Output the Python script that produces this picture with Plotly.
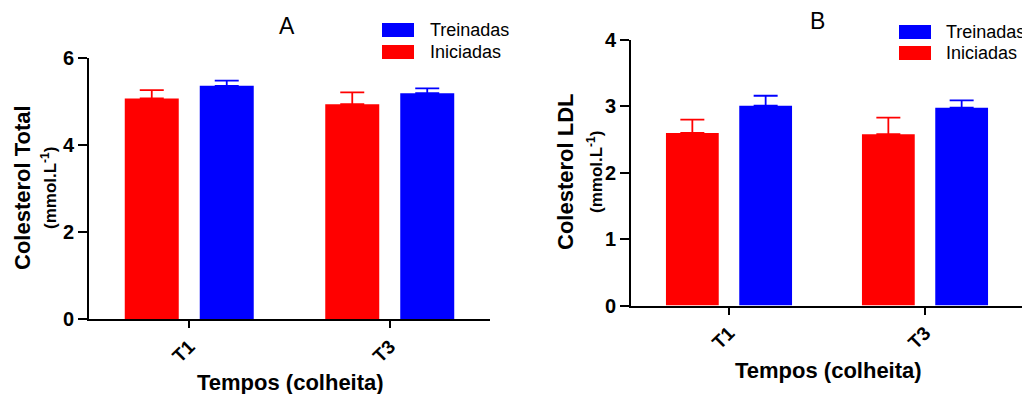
import plotly.graph_objects as go

# ---- data ----
categories = ["T1", "T3"]
series_names = ["Iniciadas", "Treinadas"]

a_iniciadas = [5.06, 4.93]
a_iniciadas_sem = [0.19, 0.27]
a_treinadas = [5.35, 5.18]
a_treinadas_sem = [0.12, 0.11]

b_iniciadas = [2.60, 2.58]
b_iniciadas_sem = [0.20, 0.25]
b_treinadas = [3.01, 2.98]
b_treinadas_sem = [0.15, 0.11]

panel_titles = ["A", "B"]
y_titles = ["Colesterol Total", "Colesterol LDL"]
y_unit = "(mmol.L<sup>-1</sup>)"
x_title = "Tempos (colheita)"

RED = "#FF0000"
BLUE = "#0000FF"
FONT = "Arial, Liberation Sans, sans-serif"
W, H = 1030, 394
OFF = 8  # page body margin


def px(x):
    return (x - OFF) / W


def py(y):
    return 1 - (y - OFF) / H


fig = go.Figure()


def add_bars(xa, ya, vals, sems, color, name):
    fig.add_trace(go.Bar(
        x=categories, y=vals, name=name, xaxis=xa, yaxis=ya,
        marker=dict(color=color, line=dict(width=0)),
        error_y=dict(type="data", array=sems, arrayminus=[0] * len(sems),
                     symmetric=False, color=color, thickness=1.8, width=12),
        showlegend=False,
    ))


add_bars("x", "y", a_iniciadas, a_iniciadas_sem, RED, series_names[0])
add_bars("x", "y", a_treinadas, a_treinadas_sem, BLUE, series_names[1])
add_bars("x2", "y2", b_iniciadas, b_iniciadas_sem, RED, series_names[0])
add_bars("x2", "y2", b_treinadas, b_treinadas_sem, BLUE, series_names[1])

xax = dict(showline=True, linecolor="black", linewidth=2, ticks="outside",
           ticklen=7, tickwidth=2, tickcolor="black", tickangle=-45,
           tickfont=dict(family=FONT, size=19, color="black", weight="bold"),
           showgrid=False, zeroline=False, range=[-0.5, 1.5], automargin=False)
yax = dict(showline=True, linecolor="black", linewidth=2, ticks="outside",
           ticklen=9, tickwidth=2, tickcolor="black",
           tickfont=dict(family=FONT, size=20, color="black", weight="bold"),
           showgrid=False, zeroline=False, automargin=False)

fig.update_layout(
    width=W, height=H, margin=dict(l=0, r=0, t=0, b=0),
    paper_bgcolor="white", plot_bgcolor="white",
    barmode="group", bargap=0.252, bargroupgap=0.28,
    xaxis=dict(xax, domain=[px(89), px(490)], anchor="y"),
    yaxis=dict(yax, domain=[py(319), py(57.5)], anchor="x", range=[0, 6], dtick=2),
    xaxis2=dict(xax, domain=[px(631), px(1023)], anchor="y2"),
    yaxis2=dict(yax, domain=[py(305.5), py(40)], anchor="x2", range=[0, 4], dtick=1),
    font=dict(family=FONT, color="black"),
)

annotations = []
shapes = []

panels = [
    dict(title_xy=(287, 26), ytitle_x=(22, 49), ymid=188, xtitle_xy=(290, 382),
         leg_x=382, leg_y=(30, 52), leg_tx=428),
    dict(title_xy=(817, 21), ytitle_x=(565, 595), ymid=172, xtitle_xy=(828, 370),
         leg_x=899, leg_y=(32, 53), leg_tx=944),
]

for i, p in enumerate(panels):
    annotations.append(dict(text=panel_titles[i], x=px(p["title_xy"][0]), y=py(p["title_xy"][1]),
                            xref="paper", yref="paper", showarrow=False,
                            font=dict(family=FONT, size=23, color="black"),
                            xanchor="center", yanchor="middle"))
    annotations.append(dict(text=y_titles[i], x=px(p["ytitle_x"][0]), y=py(p["ymid"]),
                            xref="paper", yref="paper", showarrow=False, textangle=-90,
                            font=dict(family=FONT, size=22, color="black", weight="bold"),
                            xanchor="center", yanchor="middle"))
    annotations.append(dict(text=y_unit, x=px(p["ytitle_x"][1]), y=py(p["ymid"]),
                            xref="paper", yref="paper", showarrow=False, textangle=-90,
                            font=dict(family=FONT, size=17, color="black", weight="bold"),
                            xanchor="center", yanchor="middle"))
    annotations.append(dict(text=x_title, x=px(p["xtitle_xy"][0]), y=py(p["xtitle_xy"][1]),
                            xref="paper", yref="paper", showarrow=False,
                            font=dict(family=FONT, size=22, color="black", weight="bold"),
                            xanchor="center", yanchor="middle"))
    # legend: Treinadas (blue) on top, Iniciadas (red) below
    for name, color, yc in [(series_names[1], BLUE, p["leg_y"][0]),
                            (series_names[0], RED, p["leg_y"][1])]:
        shapes.append(dict(type="rect", xref="paper", yref="paper",
                           x0=px(p["leg_x"]), x1=px(p["leg_x"] + 32),
                           y0=py(yc + 7), y1=py(yc - 7),
                           fillcolor=color, line=dict(width=0)))
        annotations.append(dict(text=name, x=px(p["leg_tx"]), y=py(yc),
                                xref="paper", yref="paper", showarrow=False,
                                font=dict(family=FONT, size=18, color="black"),
                                xanchor="left", yanchor="middle"))

fig.update_layout(annotations=annotations, shapes=shapes)
fig.write_html("out.html")
